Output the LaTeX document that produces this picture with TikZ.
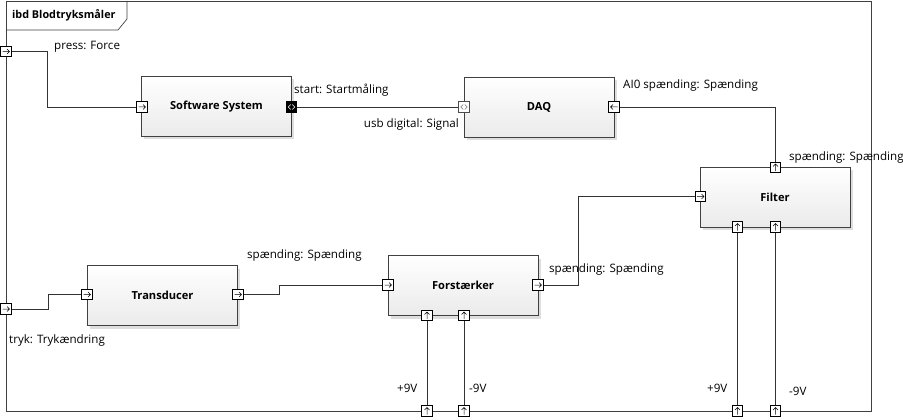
\documentclass[tikz,border=0pt]{standalone}
\usepackage{fontspec}
\setmainfont{Open Sans}
\begin{document}
\begin{tikzpicture}[x=1pt,y=-1pt,
  blk/.style={draw=black!75,line width=0.9pt,top color=white,bottom color=black!8,
    minimum width=150pt,minimum height=60pt,font=\fontsize{11.1}{13}\selectfont\bfseries},
  lbl/.style={font=\fontsize{11.6}{13}\selectfont,inner sep=0pt,anchor=west},
  port/.style={draw=black,fill=white,line width=0.7pt,minimum size=10.5pt,inner sep=0pt},
  conn/.style={draw=black!80,line width=0.8pt},
  pR/.style={port,path picture={\draw[shift={(path picture bounding box.center)},line width=0.5pt]
     (-3.5,0)--(3.5,0) (1,-2.5)--(3.5,0)--(1,2.5);}},
  pL/.style={port,path picture={\draw[shift={(path picture bounding box.center)},line width=0.5pt]
     (3.5,0)--(-3.5,0) (-1,-2.5)--(-3.5,0)--(-1,2.5);}},
  pU/.style={port,path picture={\draw[shift={(path picture bounding box.center)},line width=0.5pt]
     (0,3.5)--(0,-3.5) (-2.5,-1)--(0,-3.5)--(2.5,-1);}},
  pNb/.style={port,fill=black,path picture={\draw[shift={(path picture bounding box.center)},white,line width=0.6pt]
     (-0.8,-2.5)--(-3.3,0)--(-0.8,2.5) (0.8,-2.5)--(3.3,0)--(0.8,2.5);}},
  pNw/.style={port,draw=black!70,path picture={\draw[shift={(path picture bounding box.center)},black!55,line width=0.5pt]
     (-0.8,-2.5)--(-3.3,0)--(-0.8,2.5) (0.8,-2.5)--(3.3,0)--(0.8,2.5);}},
]
\useasboundingbox (0,0) rectangle (903,420);
% frame
\draw[black!75,line width=0.9pt] (6,1) rectangle (871,411);
\draw[black!75,line width=0.7pt] (6,30) -- (118,30) -- (127,19) -- (127,1);
\node[font=\fontsize{10.8}{12}\selectfont\bfseries,inner sep=0pt,anchor=west] (title) at (12,15.5) {ibd Blodtryksmåler};

% shadows
\foreach \x/\y in {141/76,464/77,700/167,87/266,388/256}{
  \fill[black!13] (\x+3,\y+3) rectangle (\x+153,\y+63);
}
% blocks
\node[blk] (ss) at (216.5,106.5) {Software System};
\node[blk] (daq) at (539,107) {DAQ};
\node[blk] (fil) at (775,197) {Filter};
\node[blk] (tr) at (162.5,295.5) {Transducer};
\node[blk] (fo) at (463,285.5) {Forstærker};

% bend points
\coordinate (c1) at (47,51.5);
\coordinate (c2) at (48,309);
\coordinate (c3) at (279,294.5);
\coordinate (c4) at (578.5,285);

% ports
\node[pR] (pp) at (6,51.5) {};
\node[pR] (ssin) at (142,107) {};
\node[pNb] (ssout) at (291.5,107) {};
\node[pNw] (daqin) at (464,107) {};
\node[pL] (daqout) at (614,107) {};
\node[pU] (filtop) at (775.5,167.5) {};
\node[pR] (filin) at (700.5,196.5) {};
\node[pU] (filb1) at (737.5,227) {};
\node[pU] (filb2) at (775.5,227) {};
\node[pR] (tp) at (6,309) {};
\node[pR] (trin) at (87,294.5) {};
\node[pR] (trout) at (238,294.5) {};
\node[pR] (foin) at (388,285) {};
\node[pR] (foout) at (538,285) {};
\node[pU] (fob1) at (427,315.5) {};
\node[pU] (fob2) at (464,315.5) {};
\node[pU] (g1) at (427,411) {};
\node[pU] (g2) at (464,411) {};
\node[pU] (g3) at (737.5,411) {};
\node[pU] (g4) at (775.5,411) {};

\draw[conn] (pp.east) -- (c1) |- (ssin.west);
\draw[conn] (ssout.east) -- (daqin.west);
\draw[conn] (daqout.east) -| (filtop.north);
\draw[conn] (tp.east) -- (c2) |- (trin.west);
\draw[conn] (trout.east) -- (c3) |- (foin.west);
\draw[conn] (foout.east) -- (c4) |- (filin.west);
\draw[conn] (fob1.south) -- (g1.north);
\draw[conn] (fob2.south) -- (g2.north);
\draw[conn] (filb1.south) -- (g3.north);
\draw[conn] (filb2.south) -- (g4.north);

% labels
\node[lbl] (l1) at (54,47) {press: Force};
\node[lbl] (l2) at (294,90) {start: Startmåling};
\node[lbl,anchor=east] (l3) at (459,124) {usb digital: Signal};
\node[lbl] (l4) at (623,85) {AI0 spænding: Spænding};
\node[lbl] (l5) at (789,157) {spænding: Spænding};
\node[lbl] (l6) at (247,255) {spænding: Spænding};
\node[lbl] (l7) at (549,269) {spænding: Spænding};
\node[lbl] (l8) at (9,340) {tryk: Trykændring};
\node[lbl] (l9) at (397,388) {+9V};
\node[lbl] (l10) at (469,388) {-9V};
\node[lbl] (l11) at (707,388) {+9V};
\node[lbl] (l12) at (789,391) {-9V};
\end{tikzpicture}
\end{document}
